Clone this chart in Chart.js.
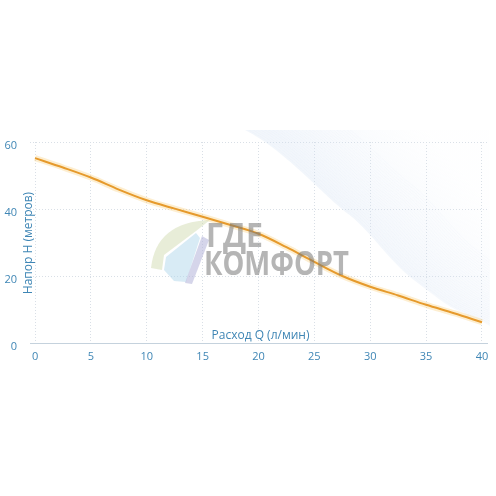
<!DOCTYPE html>
<html lang="ru">
<head>
  <meta charset="UTF-8" />
  <title>Напорная характеристика</title>
  <script src="https://cdn.jsdelivr.net/npm/chart.js"></script>
  <style>
    body { margin: 0; background: #ffffff; }
    #wrap { width: 496px; height: 496px; }
  </style>
</head>
<body>
  <div id="wrap"><canvas id="pumpChart" width="496" height="496"></canvas></div>

  <script>
  // расход Q, л/мин
  const flowQ = [0, 2.5, 5, 7.5, 10, 12.5, 15, 17.5, 20, 22.5, 25, 27.5, 30, 32.5, 35, 37.5, 40];
  // напор H, м
  const headH = [55.2, 52.4, 49.4, 45.8, 42.6, 40.1, 37.7, 35.2, 32.6, 28.6, 24.2, 20.0, 16.8, 14.2, 11.4, 8.9, 6.2];

  const xTicks = [0, 5, 10, 15, 20, 25, 30, 35, 40];
  const yTicks = [0, 20, 40, 60];

  // граница заштрихованной области (фон)
  const hatchQ = [18.8, 20.2, 22.9, 25.1, 27.3, 29.1, 32.7, 35.1, 37.2, 39.8, 40.7];
  const hatchH = [63.6, 61.2, 54.0, 47.2, 40.3, 35.8, 21.8, 15.8, 10.4, 6.9, 5.1];

  const xTitle = 'Расход Q (л/мин)';
  const yTitle = 'Напор H (метров)';
  const blue = '#3f86b5';

  const points = flowQ.map((q, i) => ({ x: q, y: headH[i] }));

  const hatchPlugin = {
    id: 'hatch',
    beforeDatasetsDraw(chart) {
      const ctx = chart.ctx;
      const xs = chart.scales.x, ys = chart.scales.y;
      const pts = hatchQ.map((q, i) => [xs.getPixelForValue(q), ys.getPixelForValue(hatchH[i])]);
      const edge = (dx, dy) => {
        ctx.moveTo(pts[0][0] + dx, pts[0][1] + dy);
        for (let i = 1; i < pts.length - 1; i++) {
          const mx = (pts[i][0] + pts[i + 1][0]) / 2, my = (pts[i][1] + pts[i + 1][1]) / 2;
          ctx.quadraticCurveTo(pts[i][0] + dx, pts[i][1] + dy, mx + dx, my + dy);
        }
        const last = pts[pts.length - 1];
        ctx.lineTo(last[0] + dx, last[1] + dy);
      };
      const last = pts[pts.length - 1];
      ctx.save();
      ctx.beginPath();
      edge(0, 0);
      ctx.lineTo(last[0], pts[0][1]);
      ctx.closePath();
      const g = ctx.createLinearGradient(370, 245, 460, 170);
      g.addColorStop(0, 'rgba(214,227,243,0.32)');
      g.addColorStop(1, 'rgba(236,242,250,0.05)');
      ctx.fillStyle = g;
      ctx.fill();
      ctx.clip();
      ctx.strokeStyle = 'rgba(175,198,228,0.09)';
      ctx.lineWidth = 0.6;
      for (let k = 1; k < 30; k++) {
        ctx.beginPath();
        edge(k * 2.2, -k * 1.0);
        ctx.stroke();
      }
      ctx.restore();
    }
  };

  const overlayPlugin = {
    id: 'overlay',
    afterDatasetsDraw(chart) {
      const ctx = chart.ctx;
      const a = chart.chartArea;
      ctx.save();
      // логотип-водяной знак
      ctx.beginPath();
      ctx.moveTo(151, 268);
      ctx.quadraticCurveTo(156, 222, 210, 220);
      ctx.lineTo(196, 231);
      ctx.lineTo(164, 255);
      ctx.lineTo(162, 270);
      ctx.closePath();
      ctx.fillStyle = 'rgba(203,214,168,0.45)';
      ctx.fill();
      ctx.beginPath();
      ctx.moveTo(166, 257);
      ctx.lineTo(196, 233);
      ctx.lineTo(200, 238);
      ctx.lineTo(186, 282);
      ctx.lineTo(174, 281);
      ctx.lineTo(164, 270);
      ctx.closePath();
      ctx.fillStyle = 'rgba(178,216,236,0.5)';
      ctx.fill();
      ctx.beginPath();
      ctx.moveTo(202, 236);
      ctx.lineTo(209, 240);
      ctx.lineTo(192, 284);
      ctx.lineTo(185, 283);
      ctx.closePath();
      ctx.fillStyle = 'rgba(178,178,216,0.55)';
      ctx.fill();
      ctx.fillStyle = 'rgba(120,120,120,0.55)';
      ctx.font = 'bold 34px "Open Sans", sans-serif';
      ctx.textBaseline = 'alphabetic';
      ctx.textAlign = 'left';
      ctx.fillText('ГДЕ', 206, 247, 57);
      ctx.fillText('КОМФОРТ', 204, 275, 145);

      // подписи осей
      ctx.fillStyle = blue;
      ctx.font = '12px "Open Sans", sans-serif';
      ctx.textAlign = 'center';
      ctx.textBaseline = 'middle';
      ctx.fillText(xTitle, (a.left + a.right) / 2 + 2, a.bottom - 7);
      ctx.translate(29, 243);
      ctx.rotate(-Math.PI / 2);
      ctx.fillText(yTitle, 0, 0);
      ctx.restore();
    }
  };

  new Chart(document.getElementById('pumpChart'), {
    type: 'line',
    data: {
      datasets: [{
        data: points,
        borderColor: '#e69a2c',
        borderWidth: 2,
        pointRadius: 0,
        cubicInterpolationMode: 'monotone',
        order: 0
      }, {
        data: points,
        borderColor: 'rgba(248,205,120,0.35)',
        borderWidth: 6,
        pointRadius: 0,
        cubicInterpolationMode: 'monotone',
        order: 1
      }]
    },
    options: {
      responsive: false,
      animation: false,
      layout: { padding: { top: 142, right: 9, left: 0, bottom: 0 } },
      plugins: {
        legend: { display: false },
        tooltip: { enabled: false }
      },
      scales: {
        x: {
          type: 'linear',
          min: -0.45,
          max: 40.45,
          afterBuildTicks: s => { s.ticks = xTicks.map(v => ({ value: v })); },
          afterFit: s => { s.height = 153; },
          grid: { color: '#d9dfe6', drawTicks: false },
          border: { display: true, color: '#c5d2dd', width: 1, dash: [1, 2] },
          ticks: { color: blue, padding: 7, font: { family: '"Open Sans", sans-serif', size: 11 } }
        },
        y: {
          min: 0,
          max: 60,
          afterBuildTicks: s => { s.ticks = yTicks.map(v => ({ value: v })); },
          afterFit: s => { s.width = 30; },
          grid: { color: '#d9dfe6', drawTicks: false },
          border: { display: false, dash: [1, 2] },
          ticks: { color: blue, padding: 13, labelOffset: 4, font: { family: '"Open Sans", sans-serif', size: 11 } }
        }
      }
    },
    plugins: [hatchPlugin, overlayPlugin]
  });
  </script>
</body>
</html>
